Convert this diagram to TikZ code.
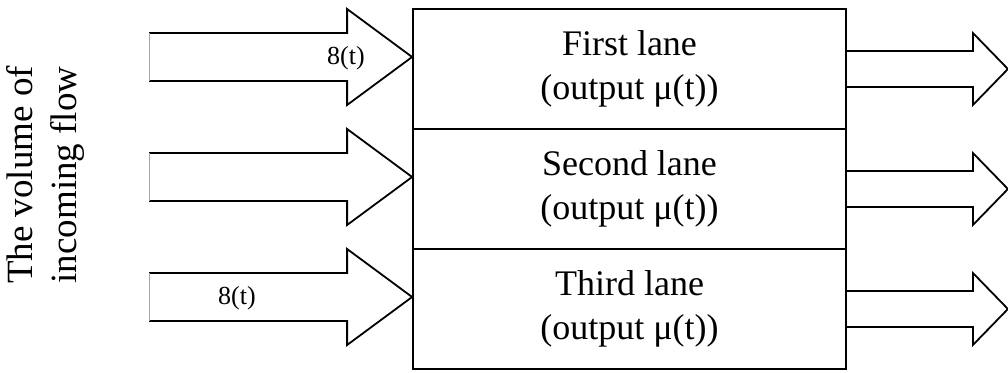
\documentclass[tikz,border=0pt]{standalone}
\usepackage{fontspec}
\setmainfont{Liberation Serif}
\usetikzlibrary{calc}
\begin{document}
\begin{tikzpicture}[x=1pt,y=1pt,
  lanebox/.style={draw, line width=1.8pt, minimum width=433pt, minimum height=120pt, inner sep=0pt, align=center, font=\fontsize{36}{44}\selectfont},
  blockarrow/.style={draw, line width=1.8pt, line join=miter},
  openend/.style={draw=gray!70, line width=0.8pt},
  ratelabel/.style={inner sep=0pt, font=\fontsize{26}{30}\selectfont}]
\useasboundingbox (0,0) rectangle (1008,372);
\node[lanebox] (lane1) at (629.5,303) {First lane\\(output μ(t))};
\node[lanebox] (lane2) at (629.5,183) {Second lane\\(output μ(t))};
\node[lanebox] (lane3) at (629.5,63) {Third lane\\(output μ(t))};
\foreach \l in {lane1,lane2,lane3}{
  \coordinate (\l-in) at ($(\l.west)+(0,12)$);
  \draw[blockarrow] ($(\l-in)+(-263,24)$) -- ($(\l-in)+(-65,24)$) -- ($(\l-in)+(-65,48)$) -- (\l-in)
     -- ($(\l-in)+(-65,-48)$) -- ($(\l-in)+(-65,-24)$) -- ($(\l-in)+(-263,-24)$);
  \draw[openend] ($(\l-in)+(-263,24)$) -- ($(\l-in)+(-263,-24)$);
  \coordinate (\l-out) at ($(\l.east)+(161,0)$);
  \draw[blockarrow] ($(\l.east)+(0,18)$) -- ($(\l.east)+(126,18)$) -- ($(\l.east)+(126,36)$) -- (\l-out)
     -- ($(\l.east)+(126,-36)$) -- ($(\l.east)+(126,-18)$) -- ($(\l.east)+(0,-18)$);
}
\node[ratelabel] (rate1) at (346,314) {8(t)};
\node[ratelabel] (rate3) at (237,74) {8(t)};
\node[rotate=90, align=center, inner sep=0pt, font=\fontsize{37}{44}\selectfont] (vol) at (45,197) {The volume of\\incoming flow};
\end{tikzpicture}
\end{document}
